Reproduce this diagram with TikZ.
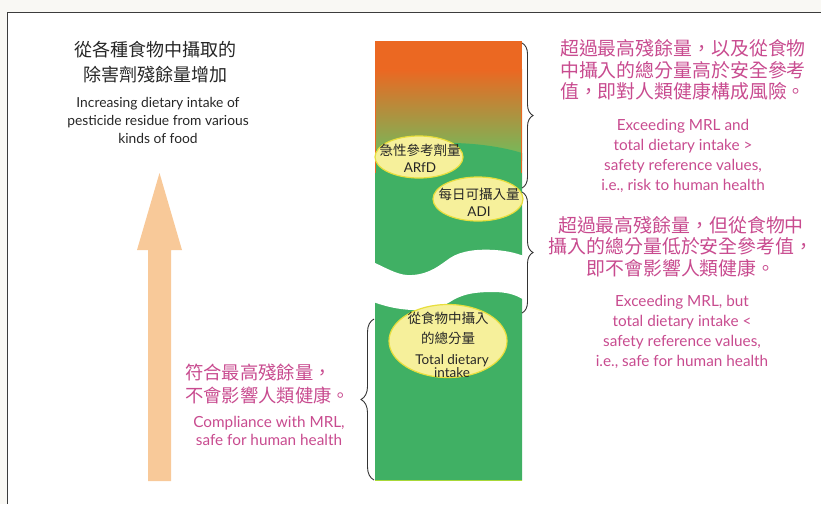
\documentclass[tikz,border=0pt]{standalone}
\usepackage{fontspec}
\setmainfont{Lato}
\newfontfamily\cjk{Noto Sans CJK TC}
\usetikzlibrary{shapes.geometric,decorations.pathreplacing}
\definecolor{pinkt}{RGB}{200,75,143}
\definecolor{orangetop}{RGB}{235,104,34}
\definecolor{greenlite}{RGB}{110,190,94}
\definecolor{greenbar}{RGB}{64,176,100}
\definecolor{peach}{RGB}{248,201,153}
\definecolor{ellfill}{RGB}{246,240,155}
\definecolor{elldraw}{RGB}{232,222,60}
\definecolor{framegray}{RGB}{60,60,60}
\definecolor{strip}{RGB}{249,248,244}
\begin{document}
\begin{tikzpicture}[x=1pt,y=-1pt,
  zhblack/.style={font=\cjk\fontsize{18}{25}\selectfont, text=black!85, align=center, inner sep=0},
  enblack/.style={font=\fontsize{13.8}{18}\selectfont, text=black!85, align=center, inner sep=0},
  zhpink/.style={font=\cjk\fontsize{18.9}{21.7}\selectfont, text=pinkt, align=center, inner sep=0},
  enpink/.style={font=\fontsize{15.3}{20}\selectfont, text=pinkt, align=center, inner sep=0},
  bubble/.style={ellipse, fill=ellfill, draw=elldraw, line width=1.2pt, inner sep=0},
  bubtext/.style={font=\cjk\fontsize{13.5}{17}\selectfont, text=black!85, align=center, inner sep=0},
  curly/.style={decorate, decoration={brace, amplitude=#1}, draw=black!80, line width=0.9pt},
  curly/.default=11pt
]
\useasboundingbox (0,0) rectangle (821,504);
\fill[strip] (0,0) rectangle (821,12);
\fill[strip] (0,12) rectangle (7,504);
\draw[framegray, line width=1.5pt] (7.5,504) -- (7.5,12.5) -- (821,12.5);

% arrow
\fill[peach] (148,481) -- (148,250) -- (137,250) -- (159.5,173) -- (182,250) -- (171,250) -- (171,481) -- cycle;

% bar
\fill[orangetop] (375,41) rectangle (522,70);
\shade[top color=orangetop, bottom color=greenlite] (375,69.5) rectangle (522,160);
\fill[greenlite] (375,159.5) rectangle (522,173);
\fill[greenbar] (375,150) .. controls (420,140) and (480,140) .. (522,153) -- (522,480.5) -- (375,480.5) -- cycle;
\draw[orangetop, line width=0.8pt] (375.4,41) -- (375.4,173) (521.6,41) -- (521.6,173);
\fill[white] (373,262) .. controls (390,270) and (400,276) .. (412,275)
  .. controls (430,274) and (440,265) .. (450,258)
  .. controls (462,250) and (480,249) .. (495,250)
  .. controls (510,251) and (518,254) .. (524,256)
  -- (524,300) .. controls (515,294) and (505,292) .. (493,292)
  .. controls (475,292) and (465,294) .. (455,299)
  .. controls (448,303) and (440,309) .. (425,310)
  .. controls (400,311) and (385,306) .. (373,302) -- cycle;
\draw[greenlite!60!yellow, line width=1pt] (375,480.5) -- (522,480.5);

% bubbles
\node[bubble, minimum width=88pt, minimum height=42pt] (arfd) at (419,157) {};
\node[bubtext] (arfdt) at (420,158.5) {急性參考劑量\\{\rmfamily ARfD}};
\node[bubble, minimum width=90pt, minimum height=44pt] (adi) at (478,199) {};
\node[bubtext] (adit) at (479,202) {每日可攝入量\\{\rmfamily ADI}};
\node[bubble, minimum width=118pt, minimum height=73pt] (tdi) at (448,341) {};
\node[bubtext, font=\cjk\fontsize{13.5}{20}\selectfont] (tdiz) at (448,328) {從食物中攝入\\的總分量};
\node[bubtext, font=\fontsize{13.5}{13}\selectfont] (tdie) at (452,366.5) {Total dietary\\intake};

% braces
\coordinate (b1a) at (522,43);
\coordinate (b1b) at (522,188);
\coordinate (b2a) at (522,192);
\coordinate (b2b) at (522,313);
\coordinate (b3a) at (374,480);
\coordinate (b3b) at (374,319);
\draw[curly] (b1a) -- (b1b);
\draw[curly] (b2a) -- (b2b);
\draw[curly=13pt] (b3a) -- (b3b);

% texts
\node[zhblack] (t1) at (155,62.5) {從各種食物中攝取的\\除害劑殘餘量增加};
\node[enblack] (t2) at (158,120) {Increasing dietary intake of\\pesticide residue from various\\kinds of food};
\node[zhpink] (r1) at (683,70) {超過最高殘餘量，以及從食物\\中攝入的總分量高於安全參考\\值，即對人類健康構成風險。};
\node[enpink] (r2) at (683,156) {Exceeding MRL and\\total dietary intake >\\safety reference values,\\i.e., risk to human health};
\node[zhpink] (r3) at (681,246.7) {超過最高殘餘量，但從食物中\\攝入的總分量低於安全參考值，\\即不會影響人類健康。};
\node[enpink] (r4) at (682,332) {Exceeding MRL, but\\total dietary intake <\\safety reference values,\\i.e., safe for human health};
\node[zhpink, font=\cjk\fontsize{18.3}{23}\selectfont, align=left, anchor=west] (l1) at (185,383.5) {符合最高殘餘量，\\不會影響人類健康。};
\node[enpink, font=\fontsize{15.3}{18}\selectfont] (l2) at (269,431) {Compliance with MRL,\\safe for human health};
\end{tikzpicture}
\end{document}
